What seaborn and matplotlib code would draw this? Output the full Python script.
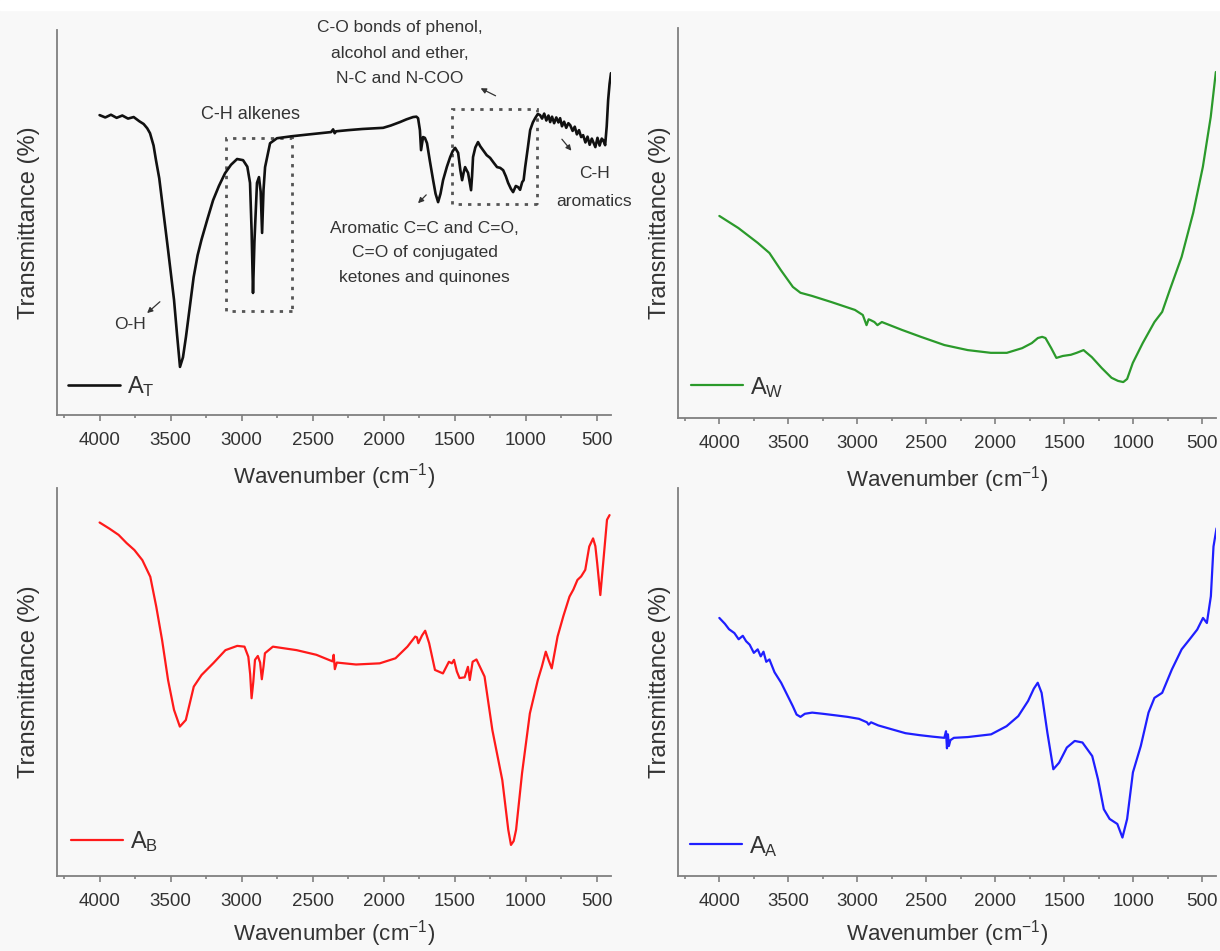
import matplotlib
matplotlib.use("Agg")
import pandas as pd
import matplotlib.pyplot as plt
from matplotlib.patches import Rectangle
from matplotlib.ticker import MultipleLocator
import seaborn as sns

# ---- spectra (wavenumber cm-1, transmittance in arbitrary %) ----
at_wn = [4000, 3960, 3920, 3880, 3840, 3800, 3760, 3720, 3690, 3665, 3645, 3620, 3603, 3580,
         3561, 3540, 3518, 3497, 3476, 3455, 3434, 3413, 3392, 3365, 3338, 3310, 3283, 3240,
         3201, 3160, 3117, 3075, 3032, 2990, 2960, 2941, 2930, 2920, 2910, 2892, 2878, 2866,
         2856, 2846, 2835, 2800, 2751, 2650, 2550, 2450, 2370, 2356, 2345, 2335, 2250, 2150,
         2050, 2004, 1950, 1885, 1840, 1793, 1770, 1758, 1745, 1737, 1723, 1710, 1695, 1675,
         1652, 1635, 1617, 1600, 1582, 1555, 1532, 1515, 1497, 1476, 1460, 1448, 1437, 1427,
         1415, 1406, 1395, 1385, 1378, 1371, 1355, 1336, 1320, 1300, 1275, 1251, 1225, 1202,
         1180, 1159, 1140, 1124, 1105, 1089, 1070, 1054, 1040, 1025, 1015, 1004, 985, 969,
         950, 934, 915, 899, 885, 870, 855, 840, 828, 815, 800, 785, 770, 758, 745, 730, 715,
         700, 687, 670, 655, 640, 625, 610, 596, 580, 565, 550, 535, 525, 510, 495, 480, 465,
         455, 441, 430, 420, 410, 400]
at_t = [77.9, 77.3, 78.0, 77.2, 77.8, 77.0, 77.4, 76.3, 75.6, 74.5, 73.2, 70.0, 66.2, 61.5,
        55.8, 49.5, 42.9, 36.5, 29.9, 21.0, 12.5, 15.0, 20.3, 28.0, 35.8, 41.5, 45.5, 51.0,
        55.8, 59.5, 62.8, 65.0, 66.5, 66.2, 64.5, 60.3, 48.0, 31.7, 45.0, 60.3, 61.8, 58.0,
        47.3, 58.5, 64.4, 70.6, 71.9, 72.4, 72.8, 73.2, 73.5, 74.2, 73.2, 73.7, 74.0, 74.3,
        74.5, 74.6, 75.2, 76.1, 76.8, 77.4, 77.5, 77.1, 74.0, 68.8, 72.2, 72.0, 70.6, 66.0,
        61.0, 57.5, 55.3, 57.5, 61.0, 64.5, 67.0, 68.5, 69.4, 68.1, 63.5, 61.0, 63.0, 64.4,
        63.5, 62.9, 60.5, 58.4, 62.0, 67.0, 69.5, 70.9, 69.8, 68.8, 67.5, 66.8, 65.5, 64.4,
        64.2, 63.6, 62.0, 60.3, 58.8, 57.9, 59.5, 59.2, 58.5, 60.5, 61.0, 64.4, 69.5, 74.0,
        76.0, 77.1, 78.2, 77.9, 77.0, 78.3, 76.5, 77.8, 76.1, 77.5, 75.8, 77.3, 76.0, 77.1,
        75.0, 76.2, 74.6, 75.8, 75.3, 73.8, 74.9, 72.9, 74.0, 72.2, 72.7, 70.8, 72.3, 70.2,
        71.8, 70.9, 69.6, 72.0, 70.0, 71.8, 71.4, 70.1, 75.0, 81.8, 86.0, 88.8]

aw_wn = [4000, 3862, 3722, 3637, 3554, 3467, 3412, 3329, 3186, 3017, 2960, 2933, 2918, 2904,
         2876, 2854, 2822, 2678, 2539, 2369, 2199, 2032, 1916, 1805, 1735, 1691, 1660, 1636,
         1594, 1557, 1510, 1452, 1410, 1360, 1300, 1228, 1157, 1110, 1072, 1044, 1003, 931,
         846, 790, 735, 649, 565, 495, 438, 401]
aw_t = [51.8, 48.7, 44.9, 42.3, 37.9, 33.6, 32.1, 31.3, 29.7, 27.7, 26.4, 23.8, 25.3, 25.1,
        24.6, 23.8, 24.6, 22.6, 20.8, 18.7, 17.4, 16.7, 16.7, 17.9, 19.2, 20.5, 20.8, 20.5,
        17.9, 15.4, 15.9, 16.2, 16.7, 17.4, 15.6, 12.8, 10.3, 9.5, 9.2, 10.0, 14.1, 19.2,
        24.6, 27.2, 32.8, 41.3, 52.6, 64.4, 77.2, 88.7]

ab_wn = [4000, 3930, 3866, 3810, 3755, 3699, 3643, 3601, 3560, 3518, 3476, 3435, 3393, 3365,
         3337, 3282, 3198, 3114, 3031, 2980, 2953, 2940, 2930, 2918, 2906, 2886, 2870, 2858,
         2846, 2836, 2780, 2613, 2474, 2380, 2360, 2352, 2344, 2330, 2195, 2028, 1917, 1833,
         1778, 1766, 1756, 1730, 1708, 1680, 1639, 1583, 1541, 1520, 1505, 1485, 1466, 1430,
         1407, 1394, 1374, 1347, 1290, 1235, 1165, 1123, 1104, 1085, 1068, 1026, 971, 915,
         887, 859, 838, 817, 776, 735, 692, 665, 636, 610, 581, 553, 526, 510, 497, 475, 455,
         428, 410]
ab_t = [91.1, 89.5, 87.9, 85.8, 84.0, 81.4, 77.1, 69.4, 60.8, 50.5, 42.8, 38.5, 40.2, 44.5,
        48.8, 51.8, 54.9, 58.2, 59.3, 59.1, 56.5, 52.0, 45.8, 50.0, 55.7, 56.7, 55.0, 50.7,
        54.0, 57.4, 59.1, 58.2, 57.0, 55.6, 55.3, 57.0, 53.3, 55.0, 54.5, 54.8, 56.1, 59.1,
        61.7, 61.5, 60.0, 62.0, 63.2, 60.0, 53.1, 52.2, 55.2, 54.8, 55.7, 52.7, 51.0, 51.2,
        53.9, 50.5, 55.2, 55.8, 51.4, 37.6, 24.7, 11.9, 8.0, 9.0, 11.9, 26.5, 41.9, 50.5,
        53.9, 57.8, 55.5, 53.5, 61.7, 67.0, 72.0, 73.8, 76.3, 77.2, 78.9, 84.9, 87.0, 85.0,
        80.6, 72.4, 80.6, 91.8, 93.0]

aa_wn = [4000, 3960, 3930, 3891, 3860, 3830, 3806, 3780, 3750, 3722, 3700, 3680, 3660, 3637,
         3600, 3552, 3510, 3468, 3440, 3412, 3380, 3327, 3250, 3158, 3070, 2988, 2930, 2918,
         2900, 2848, 2750, 2651, 2550, 2453, 2369, 2357, 2350, 2343, 2336, 2325, 2300, 2199,
         2030, 1918, 1833, 1762, 1720, 1692, 1664, 1622, 1579, 1537, 1481, 1424, 1368, 1297,
         1255, 1213, 1171, 1115, 1078, 1044, 1002, 945, 889, 846, 790, 720, 649, 593, 536,
         494, 466, 437, 418, 396]
aa_t = [66.5, 65.0, 63.6, 62.6, 61.0, 61.9, 60.5, 59.6, 57.5, 58.4, 56.6, 57.8, 55.2, 55.8,
        52.5, 49.8, 46.8, 43.8, 41.6, 41.0, 41.8, 42.1, 41.8, 41.4, 41.0, 40.5, 39.6, 39.0,
        39.6, 38.8, 37.8, 36.8, 36.3, 35.9, 35.6, 37.3, 32.9, 36.5, 33.5, 35.0, 35.6, 35.8,
        36.5, 38.6, 41.2, 45.1, 48.3, 49.8, 47.2, 36.9, 27.5, 29.2, 33.1, 34.8, 34.4, 30.9,
        24.9, 17.2, 14.7, 13.4, 9.9, 14.7, 26.7, 33.5, 42.1, 45.9, 47.2, 53.2, 58.4, 60.9,
        63.5, 66.5, 65.2, 72.1, 84.9, 89.6]

BG = "#f8f8f8"
TXT = "#333333"
AX = "#808080"

sns.set_theme(style="ticks")
plt.rcParams["font.family"] = ["Liberation Sans", "DejaVu Sans"]
plt.rcParams["mathtext.default"] = "regular"


def draw_panel(fig, rect, wn, t, color, label, ylab_x, legend_xy, lw=1.6, xpad=9):
    ax = fig.add_axes(rect)
    ax.patch.set_visible(False)  # figure background shows through, labels stay visible
    df = pd.DataFrame({"wn": wn, "t": t})
    sns.lineplot(data=df, x="wn", y="t", ax=ax, color=color, linewidth=lw, label=label)
    ax.set_xlim(4300, 400)
    ax.set_ylim(0, 100)
    ax.set_xticks([4000, 3500, 3000, 2500, 2000, 1500, 1000, 500])
    ax.xaxis.set_minor_locator(MultipleLocator(250))
    ax.set_yticks([])
    sns.despine(ax=ax)
    for s in ("left", "bottom"):
        ax.spines[s].set_color(AX)
        ax.spines[s].set_linewidth(1.3)
    ax.tick_params(axis="x", which="major", direction="out", length=4, width=1.2,
                   color=AX, labelcolor=TXT, labelsize=13.5, pad=8)
    ax.tick_params(axis="x", which="minor", direction="out", length=2.5, width=1.2, color=AX)
    ax.set_xlabel("Wavenumber (cm$^{-1}$)", fontsize=16, color=TXT, labelpad=xpad)
    ax.set_ylabel("Transmittance (%)", fontsize=17, color=TXT)
    ax.yaxis.set_label_coords(ylab_x, 0.5)
    ax.legend(loc="center left", bbox_to_anchor=legend_xy, frameon=False, fontsize=17,
              handlelength=2.2, handletextpad=0.3, borderpad=0, borderaxespad=0,
              labelcolor=TXT)
    return ax


fig = plt.figure(figsize=(12.2, 9.51), dpi=100, facecolor=BG)
fig.patches.append(Rectangle((0, 1 - 10 / 951), 1, 10 / 951, transform=fig.transFigure,
                             color="white", zorder=0))

ax1 = draw_panel(fig, [0.0467, 0.5636, 0.4541, 0.4048], at_wn, at_t, "#111111",
                 "A$_{T}$", -0.030, (0.02, 0.073), lw=1.9)
ax2 = draw_panel(fig, [0.5557, 0.5605, 0.4410, 0.4101], aw_wn, aw_t, "#2b9a2b",
                 "A$_{W}$", -0.013, (0.024, 0.079))
ax3 = draw_panel(fig, [0.0467, 0.0789, 0.4541, 0.4080], ab_wn, ab_t, "#ff1a1a",
                 "A$_{B}$", -0.030, (0.025, 0.088), xpad=6)
ax4 = draw_panel(fig, [0.5557, 0.0789, 0.4410, 0.4080], aa_wn, aa_t, "#1f1fff",
                 "A$_{A}$", -0.013, (0.022, 0.077), xpad=6)

# annotations on the A_T spectrum
box = dict(fill=False, ec="#555555", lw=2, ls=(0, (1.2, 2.2)))
ax1.add_patch(Rectangle((2645, 27.0), 465, 44.9, **box))
ax1.add_patch(Rectangle((920, 54.8), 598, 24.7, **box))

arrow = dict(arrowstyle="-|>", color=TXT, lw=0.9, mutation_scale=8)
ax1.text(2940, 78, "C-H alkenes", ha="center", va="center", fontsize=13, color=TXT)
ax1.text(1885, 94.0, "C-O bonds of phenol,\nalcohol and ether,\nN-C and N-COO",
         ha="center", va="center", fontsize=12.5, color=TXT, linespacing=1.85)
ax1.annotate("", xy=(1335, 85.2), xytext=(1195, 82.6), arrowprops=arrow)
ax1.text(1712, 42.1, "Aromatic C=C and C=O,\nC=O of conjugated\nketones and quinones",
         ha="center", va="center", fontsize=12.5, color=TXT, linespacing=1.8)
ax1.annotate("", xy=(1772, 54.5), xytext=(1687, 57.7), arrowprops=arrow)
ax1.text(3786, 23.4, "O-H", ha="center", va="center", fontsize=12.5, color=TXT)
ax1.annotate("", xy=(3680, 26.0), xytext=(3561, 29.9), arrowprops=arrow)
ax1.text(518, 59.1, "C-H\naromatics", ha="center", va="center", fontsize=12.5, color=TXT,
         linespacing=2.1)
ax1.annotate("", xy=(666, 68.1), xytext=(758, 72.2), arrowprops=arrow)

fig.savefig("out.png", dpi=100, facecolor=BG)
